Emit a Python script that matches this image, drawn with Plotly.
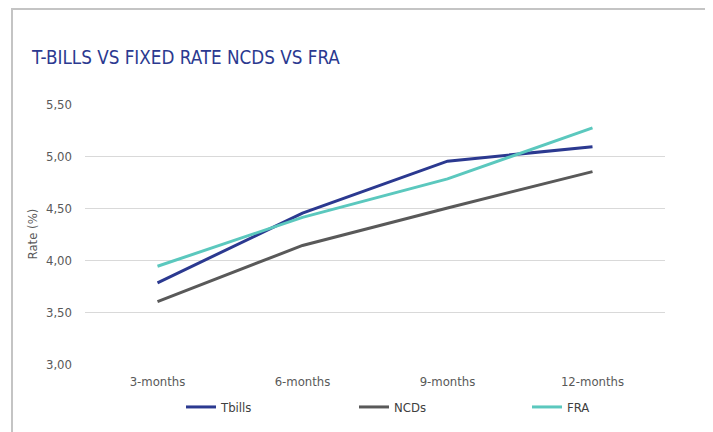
import plotly.graph_objects as go

categories = ["3-months", "6-months", "9-months", "12-months"]
tbills = [3.78, 4.45, 4.95, 5.09]
ncds = [3.60, 4.14, 4.50, 4.85]
fra = [3.94, 4.41, 4.78, 5.27]
y_ticks = [3.0, 3.5, 4.0, 4.5, 5.0, 5.5]

# page body has an 8px default margin, so figure is 8px smaller and offset
W, H = 705, 424
L, T, R, B = 77, 96, 48, 68
PW, PH = W - L - R, H - T - B


def px(xp):
    return (xp - L) / PW


def py(yp):
    return (H - B - yp) / PH


fig = go.Figure()
fig.add_trace(go.Scatter(x=categories, y=tbills, name="Tbills", mode="lines",
                         line=dict(color="#2B3990", width=3)))
fig.add_trace(go.Scatter(x=categories, y=ncds, name="NCDs", mode="lines",
                         line=dict(color="#595959", width=3)))
fig.add_trace(go.Scatter(x=categories, y=fra, name="FRA", mode="lines",
                         line=dict(color="#5BC8BE", width=3)))

fig.update_layout(
    width=W, height=H,
    margin=dict(l=L, r=R, t=T, b=B, autoexpand=False),
    paper_bgcolor="white", plot_bgcolor="white",
    separators=",.",
    font=dict(family="DejaVu Sans Condensed, DejaVu Sans", color="#595959", size=13),
    title=dict(text="T-BILLS VS FIXED RATE NCDS VS FRA", x=24 / W, xanchor="left",
               y=1 - 49 / H, yanchor="middle",
               font=dict(size=18.7, color="#2B3990", family="DejaVu Sans Condensed, DejaVu Sans")),
    showlegend=True,
    legend=dict(orientation="h", x=px(173), xanchor="left",
                yref="container", y=(H - 399) / H, yanchor="middle",
                entrywidth=128, entrywidthmode="pixels", font=dict(size=13, color="#404040"),
                bgcolor="rgba(0,0,0,0)"),
    xaxis=dict(type="category", showgrid=False, showline=False, zeroline=False, ticks="",
               ticklabelstandoff=8, automargin=False,
               tickfont=dict(size=13, color="#595959"), range=[-0.5, 3.5]),
    yaxis=dict(range=[3.0, 5.5], tickvals=y_ticks, tickformat=".2f", showgrid=True,
               gridcolor="#D9D9D9", gridwidth=1, zeroline=False, showline=False, ticks="",
               ticklabelstandoff=12, automargin=False,
               title=dict(text="Rate (%)", standoff=5, font=dict(size=13, color="#595959")),
               tickfont=dict(size=13, color="#595959")),
    shapes=[
        dict(type="line", xref="paper", yref="paper", x0=px(3), x1=px(W + 5),
             y0=py(1), y1=py(1), line=dict(color="#C4C4C4", width=2)),
        dict(type="line", xref="paper", yref="paper", x0=px(4), x1=px(4),
             y0=py(0), y1=py(H + 5), line=dict(color="#C4C4C4", width=2)),
    ],
)

fig.write_html("out.html")
